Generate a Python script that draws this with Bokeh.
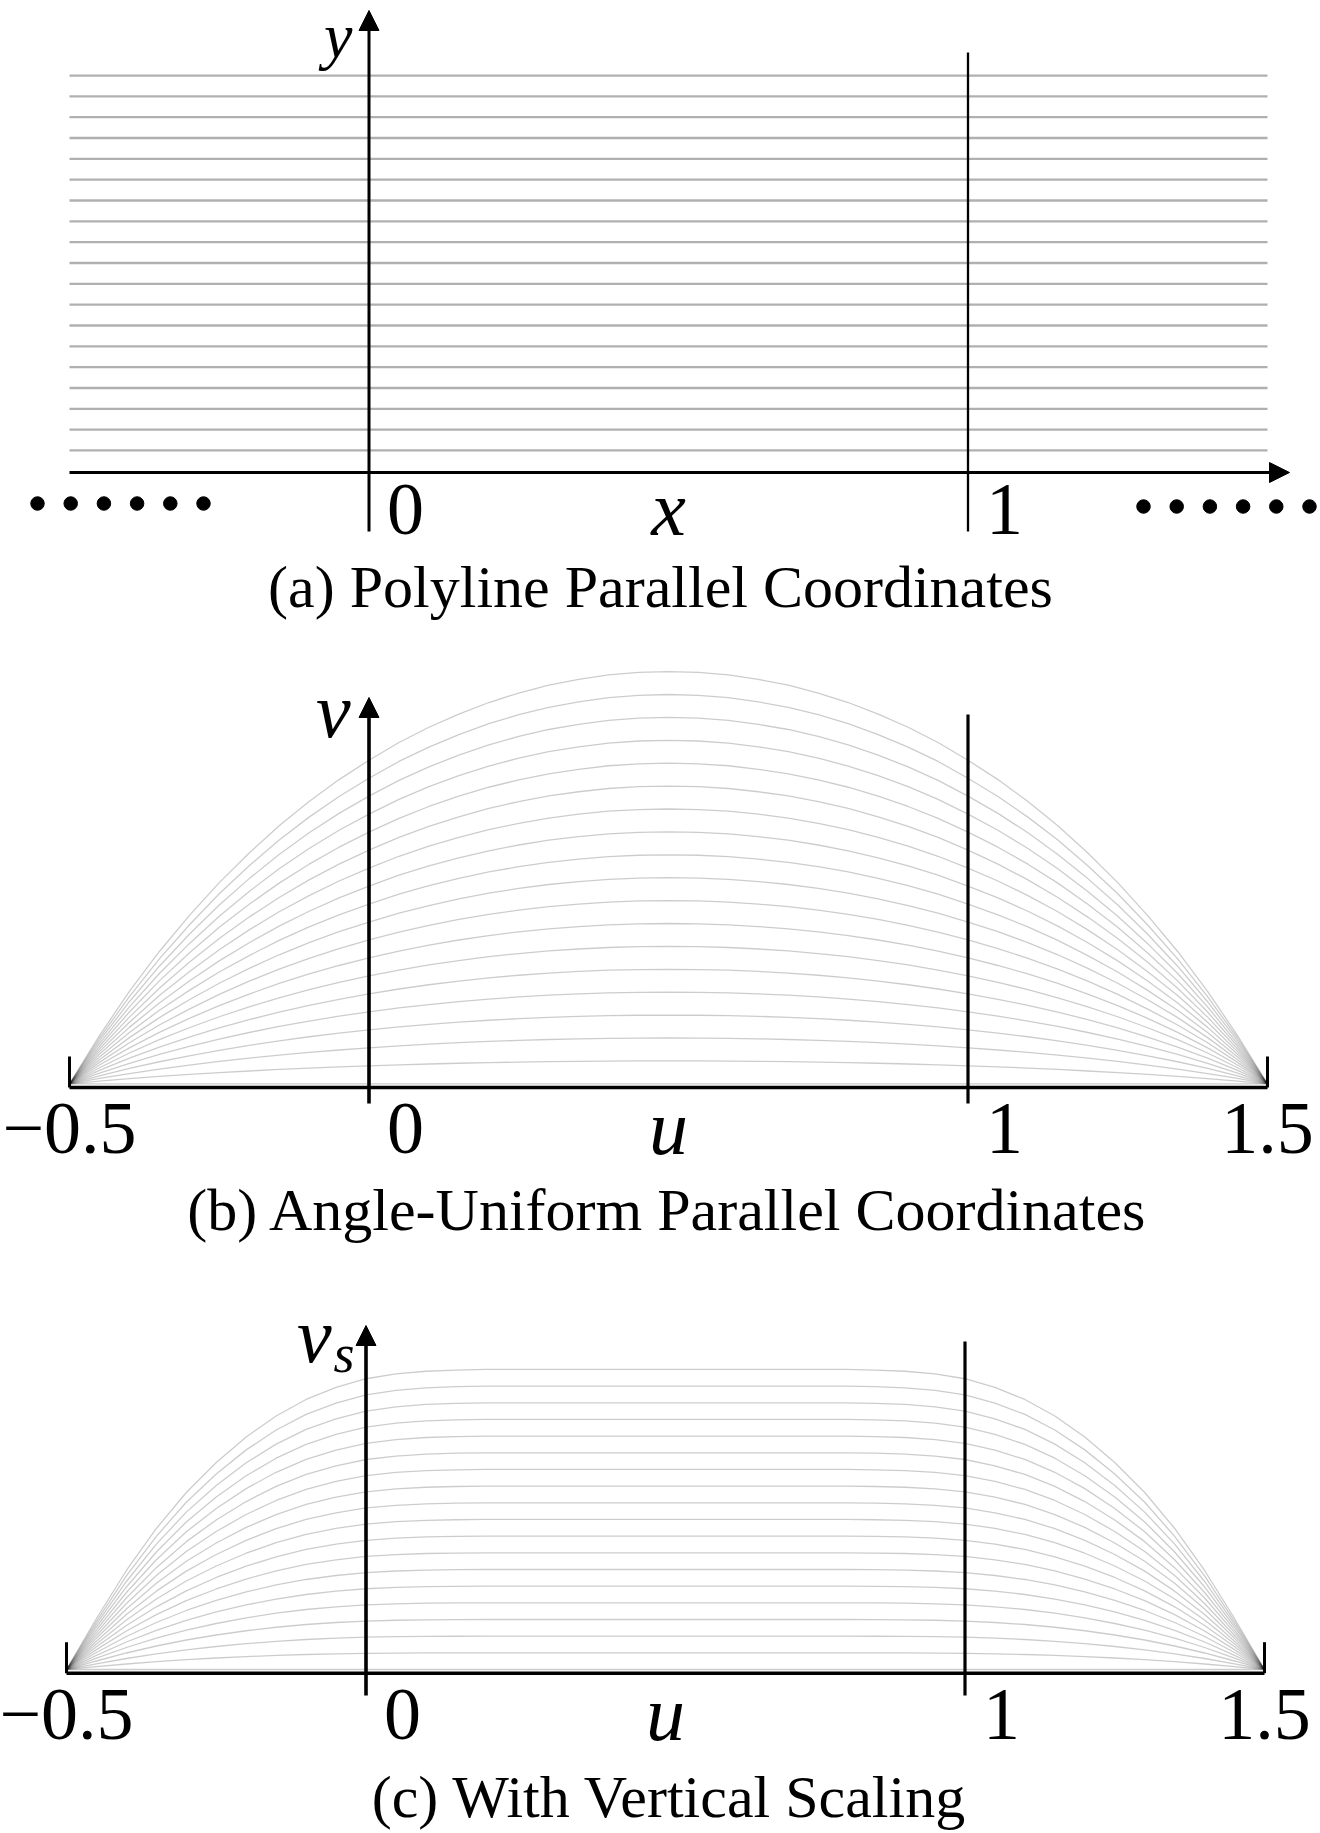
from bokeh.plotting import figure
from bokeh.layouts import column
from bokeh.models import Label, Arrow, NormalHead
from bokeh.embed import file_html
from bokeh.resources import INLINE

# ---------------- data ----------------
# (a) polyline parallel coordinates: horizontal lines y = const
pc_levels = list(range(1, 20))
pc_x_extent = [-0.5, 1.5]
pc_ticks = [0, 1]
pc_tick_labels = ["0", "1"]

# (b)/(c): one curve per level, drawn over u in [-0.5, 1.5]
curve_levels = list(range(0, 19))
u_samples = [-0.5, -0.45, -0.4, -0.35, -0.3, -0.25, -0.2, -0.15, -0.1, -0.05,
             0.0, 0.05, 0.1, 0.15, 0.2, 0.25, 0.3, 0.35, 0.4, 0.45,
             0.5, 0.55, 0.6, 0.65, 0.7, 0.75, 0.8, 0.85, 0.9, 0.95,
             1.0, 1.05, 1.1, 1.15, 1.2, 1.25, 1.3, 1.35, 1.4, 1.45, 1.5]
# relative height of a curve (1 = its level) read at each u sample
au_profile = [0.0, 0.117, 0.224, 0.321, 0.408, 0.488, 0.560, 0.626, 0.685, 0.738,
              0.785, 0.828, 0.865, 0.897, 0.925, 0.948, 0.967, 0.981, 0.992, 0.998,
              1.000, 0.998, 0.992, 0.981, 0.967, 0.948, 0.925, 0.897, 0.865, 0.828,
              0.785, 0.738, 0.685, 0.626, 0.560, 0.488, 0.408, 0.321, 0.224, 0.117, 0.0]
vs_profile = [0.0, 0.17, 0.33, 0.47, 0.59, 0.69, 0.775, 0.845, 0.90, 0.94,
              0.969, 0.985, 0.994, 0.998, 1.0, 1.0, 1.0, 1.0, 1.0, 1.0,
              1.0, 1.0, 1.0, 1.0, 1.0, 1.0, 1.0, 0.998, 0.994, 0.985,
              0.969, 0.94, 0.90, 0.845, 0.775, 0.69, 0.59, 0.47, 0.33, 0.17, 0.0]
uv_ticks = [-0.5, 0, 1, 1.5]
uv_tick_labels = ["\u22120.5", "0", "1", "1.5"]

titles = ["(a) Polyline Parallel Coordinates",
          "(b) Angle-Uniform Parallel Coordinates",
          "(c) With Vertical Scaling"]

# ---------------- styling helpers ----------------
W = 1320
SERIF = "Liberation Serif"
NUM = 74
ITAL = 78
TITLE = 60
BASE_FIX = 0.32   # baseline correction (fraction of font size)


def make_fig(h, xr, yr):
    return figure(width=W, height=h, x_range=xr, y_range=yr,
                  output_backend="svg", toolbar_location=None,
                  x_axis_type=None, y_axis_type=None, min_border=0,
                  outline_line_color=None, background_fill_color="white",
                  border_fill_color="white")


def label(p, conv, x, page_y, text, size, align="left", italic=False):
    p.add_layout(Label(x=x, y=conv(page_y - BASE_FIX * size), text=text,
                       text_font=SERIF, text_font_size=f"{size}px",
                       text_font_style="italic" if italic else "normal",
                       text_align=align, text_baseline="alphabetic",
                       text_color="black"))


def arrow(p, x0, y0, x1, y1, lw):
    p.add_layout(Arrow(x_start=x0, y_start=y0, x_end=x1, y_end=y1,
                       line_color="black", line_width=lw,
                       end=NormalHead(size=20, line_color="black",
                                      fill_color="black", line_width=1)))


# page-pixel calibration (px per unit along u / x)
SX = 599.0

# ================= panel (a) =================
HA = 640
XA0 = 368.5           # page x of x=0
YA0 = 470.8           # page y of y=0
SYA = 20.83
ax = lambda px: (px - XA0) / SX
ay = lambda py: (YA0 - py) / SYA
pa = make_fig(HA, (ax(0), ax(W)), (ay(HA), ay(0)))

pa.multi_line(xs=[pc_x_extent for _ in pc_levels],
              ys=[[lv, lv] for lv in pc_levels],
              line_color="#b0b0b0", line_width=2.3)
# x axis with arrow, y axis with arrow, line at x = 1
arrow(pa, pc_x_extent[0], ay(472), ax(1289), ay(472), 3)
arrow(pa, pc_ticks[0], ay(531), pc_ticks[0], ay(10), 3)
pa.segment(x0=[pc_ticks[1]], y0=[ay(531)], x1=[pc_ticks[1]], y1=[ay(52)],
           line_color="black", line_width=2.3)
# dots meaning "continues to infinity"
dstep = 33.2 / SX
pa.scatter(x=[ax(37) + i * dstep for i in range(6)], y=[ay(503)] * 6,
           size=13.5, color="black")
pa.scatter(x=[ax(1143) + i * dstep for i in range(6)], y=[ay(506)] * 6,
           size=13.5, color="black")
for t, s in zip(pc_ticks, pc_tick_labels):
    label(pa, ay, t + 18 / SX, 533, s, NUM)
label(pa, ay, ax(668), 533, "x", ITAL, align="center", italic=True)
label(pa, ay, ax(352), 55, "y", 64, align="right", italic=True)
label(pa, ay, ax(660), 606, titles[0], TITLE, align="center")

# ================= panel (b) =================
HB = 625
TOPB = HA
YB0 = 1083.3
SYB = 22.9
bv = lambda py: (YB0 - py) / SYB
pb = make_fig(HB, (ax(0), ax(W)), (bv(TOPB + HB), bv(TOPB)))

pb.multi_line(xs=[u_samples for _ in curve_levels],
              ys=[[lv * g for g in au_profile] for lv in curve_levels],
              line_color="black", line_alpha=0.2, line_width=1.3)
base_b = bv(1087)
pb.segment(x0=[uv_ticks[0]], y0=[base_b], x1=[uv_ticks[3]], y1=[base_b],
           line_color="black", line_width=3.5)
pb.segment(x0=[uv_ticks[0], uv_ticks[3]], y0=[base_b] * 2,
           x1=[uv_ticks[0], uv_ticks[3]], y1=[bv(1056)] * 2,
           line_color="black", line_width=3)
arrow(pb, uv_ticks[1], bv(1103), uv_ticks[1], bv(697), 3.6)
pb.segment(x0=[uv_ticks[2]], y0=[bv(1103)], x1=[uv_ticks[2]], y1=[bv(714)],
           line_color="black", line_width=3.2)
for t, s in zip(uv_ticks, uv_tick_labels):
    if t in (0, 1):
        label(pb, bv, t + 18 / SX, 1152, s, NUM)
    else:
        label(pb, bv, t, 1152, s, NUM, align="center")
label(pb, bv, 0.5, 1152, "u", ITAL, align="center", italic=True)
label(pb, bv, ax(350), 735, "v", ITAL, align="right", italic=True)
label(pb, bv, ax(667.5), 1229, titles[1], TITLE, align="center")

# ================= panel (c) =================
HC = 1833 - HA - HB
TOPC = TOPB + HB
XC0 = 365.5
YC0 = 1669.0
SYC = 16.67
cx = lambda px: (px - XC0) / SX
cv = lambda py: (YC0 - py) / SYC
pc = make_fig(HC, (cx(0), cx(W)), (cv(TOPC + HC), cv(TOPC)))

pc.multi_line(xs=[u_samples for _ in curve_levels],
              ys=[[lv * g for g in vs_profile] for lv in curve_levels],
              line_color="black", line_alpha=0.2, line_width=1.3)
base_c = cv(1672.7)
pc.segment(x0=[uv_ticks[0]], y0=[base_c], x1=[uv_ticks[3]], y1=[base_c],
           line_color="black", line_width=3.5)
pc.segment(x0=[uv_ticks[0], uv_ticks[3]], y0=[base_c] * 2,
           x1=[uv_ticks[0], uv_ticks[3]], y1=[cv(1641.7)] * 2,
           line_color="black", line_width=3)
arrow(pc, uv_ticks[1], cv(1695), uv_ticks[1], cv(1325), 3.6)
pc.segment(x0=[uv_ticks[2]], y0=[cv(1695)], x1=[uv_ticks[2]], y1=[cv(1341)],
           line_color="black", line_width=3.2)
for t, s in zip(uv_ticks, uv_tick_labels):
    if t in (0, 1):
        label(pc, cv, t + 18 / SX, 1738, s, NUM)
    else:
        label(pc, cv, t, 1738, s, NUM, align="center")
label(pc, cv, 0.5, 1738, "u", ITAL, align="center", italic=True)
label(pc, cv, cx(331), 1360, "v", ITAL, align="right", italic=True)
label(pc, cv, cx(333), 1371, "s", 54, align="left", italic=True)
label(pc, cv, cx(669), 1816, titles[2], TITLE, align="center")

layout = column(pa, pb, pc, spacing=0)
open("out.html", "w").write(file_html(layout, INLINE))
